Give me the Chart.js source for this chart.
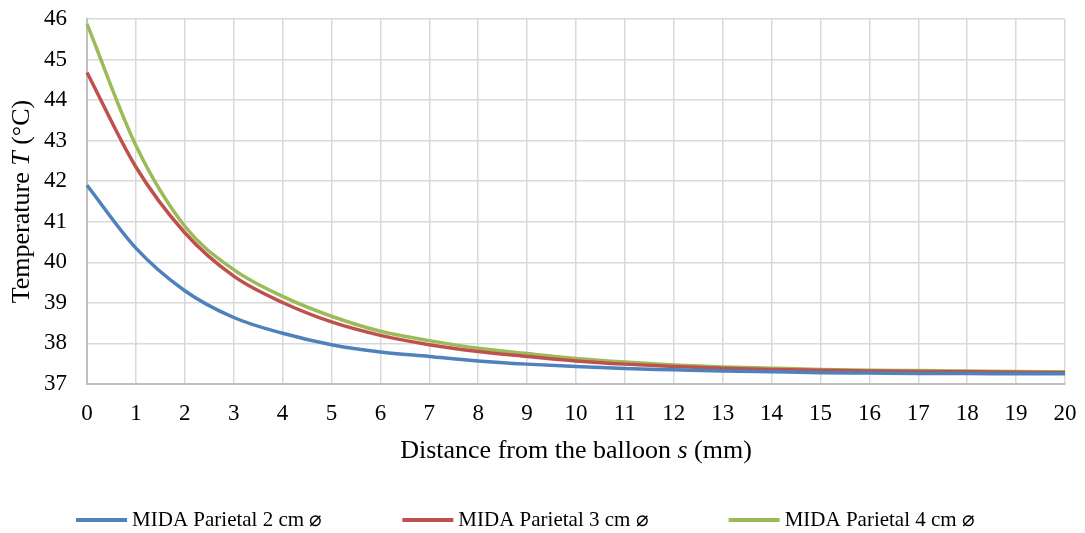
<!DOCTYPE html>
<html>
<head>
<meta charset="utf-8">
<script src="https://cdn.jsdelivr.net/npm/chart.js@4/dist/chart.umd.min.js"></script>
<style>
  html, body { margin: 0; padding: 0; background: #ffffff; }
  #wrap { width: 1085px; height: 533px; }
</style>
</head>
<body>
<div id="wrap"><canvas id="c" width="1085" height="533"></canvas></div>
<script>
const distances = ["0","1","2","3","4","5","6","7","8","9","10","11","12","13","14","15","16","17","18","19","20"];
const parietal2cm = [41.90, 40.35, 39.30, 38.64, 38.25, 37.97, 37.79, 37.68, 37.57, 37.49, 37.43, 37.38, 37.35, 37.32, 37.30, 37.28, 37.27, 37.26, 37.26, 37.25, 37.25];
const parietal3cm = [44.68, 42.35, 40.73, 39.66, 39.01, 38.53, 38.20, 37.97, 37.80, 37.68, 37.57, 37.49, 37.43, 37.39, 37.36, 37.34, 37.32, 37.31, 37.30, 37.29, 37.28];
const parietal4cm = [45.88, 42.88, 40.89, 39.82, 39.16, 38.67, 38.30, 38.07, 37.88, 37.75, 37.63, 37.54, 37.47, 37.42, 37.39, 37.36, 37.34, 37.33, 37.32, 37.31, 37.30];
const seriesNames = ["MIDA Parietal 2 cm \u2300", "MIDA Parietal 3 cm \u2300", "MIDA Parietal 4 cm \u2300"];
const seriesColors = ["#4f81bd", "#c0504d", "#9bbb59"];
const yTitleParts = [["Temperature ", false], ["T", true], [" (\u00b0C)", false]];
const xTitleParts = [["Distance from the balloon ", false], ["s", true], [" (mm)", false]];

const FONT = "'Liberation Serif', 'Times New Roman', serif";
const TITLE_SIZE = 26;
const TICK_SIZE = 23;
const LEGEND_SIZE = 21;

function drawParts(ctx, parts, size) {
  let total = 0;
  const widths = parts.map(([t, it]) => {
    ctx.font = (it ? "italic " : "") + size + "px " + FONT;
    const w = ctx.measureText(t).width;
    total += w;
    return w;
  });
  let x = -total / 2;
  parts.forEach(([t, it], i) => {
    ctx.font = (it ? "italic " : "") + size + "px " + FONT;
    ctx.fillText(t, x, 0);
    x += widths[i];
  });
}

const titlesAndLegend = {
  id: 'titlesAndLegend',
  afterDraw(chart) {
    const ctx = chart.ctx;
    const area = chart.chartArea;
    ctx.save();
    ctx.fillStyle = '#000000';
    ctx.textBaseline = 'middle';
    ctx.textAlign = 'left';
    // x axis title
    ctx.save();
    ctx.translate((area.left + area.right) / 2, area.bottom + 67);
    drawParts(ctx, xTitleParts, TITLE_SIZE);
    ctx.restore();
    // y axis title
    ctx.save();
    ctx.translate(22, (area.top + area.bottom) / 2);
    ctx.rotate(-Math.PI / 2);
    drawParts(ctx, yTitleParts, TITLE_SIZE);
    ctx.restore();
    // legend
    const lineLen = 51, gapText = 5, gapItem = 80;
    ctx.font = LEGEND_SIZE + "px " + FONT;
    const items = chart.data.datasets.map(ds => ({ text: ds.label, color: ds.borderColor, w: ctx.measureText(ds.label).width }));
    const total = items.reduce((s, it) => s + lineLen + gapText + it.w, 0) + gapItem * (items.length - 1);
    let x = chart.width / 2 - 17 - total / 2;
    const y = chart.height - 13;
    items.forEach(it => {
      ctx.fillStyle = it.color;
      ctx.fillRect(x, y - 2, lineLen, 4);
      ctx.fillStyle = '#000000';
      ctx.fillText(it.text, x + lineLen + gapText, y);
      x += lineLen + gapText + it.w + gapItem;
    });
    ctx.restore();
  }
};

const dataSets = [parietal2cm, parietal3cm, parietal4cm].map((d, i) => ({
  label: seriesNames[i],
  data: d,
  borderColor: seriesColors[i],
  backgroundColor: seriesColors[i],
  borderWidth: 3.5,
  pointRadius: 0,
  pointHoverRadius: 0,
  fill: false,
  cubicInterpolationMode: 'monotone'
}));

new Chart(document.getElementById('c'), {
  type: 'line',
  data: { labels: distances, datasets: dataSets },
  options: {
    responsive: false,
    animation: false,
    layout: { padding: { top: 19, right: 20, left: 0, bottom: 0 } },
    plugins: {
      legend: { display: false },
      tooltip: { enabled: false }
    },
    scales: {
      x: {
        offset: false,
        grid: { color: '#d9d9d9', lineWidth: 1.5, drawTicks: false },
        border: { color: '#bfbfbf', width: 2 },
        ticks: { color: '#000000', font: { family: FONT, size: TICK_SIZE }, padding: 16, maxRotation: 0, autoSkip: false },
        afterFit(scale) { scale.height = 149; scale.paddingLeft = 0; scale.paddingRight = 0; }
      },
      y: {
        min: 37, max: 46,
        grid: { color: '#d9d9d9', lineWidth: 1.5, drawTicks: false },
        border: { color: '#bfbfbf', width: 2 },
        ticks: { stepSize: 1, color: '#000000', font: { family: FONT, size: TICK_SIZE }, padding: 20 },
        afterFit(scale) { scale.width = 87; scale.paddingTop = 0; scale.paddingBottom = 0; }
      }
    }
  },
  plugins: [titlesAndLegend]
});
</script>
</body>
</html>
